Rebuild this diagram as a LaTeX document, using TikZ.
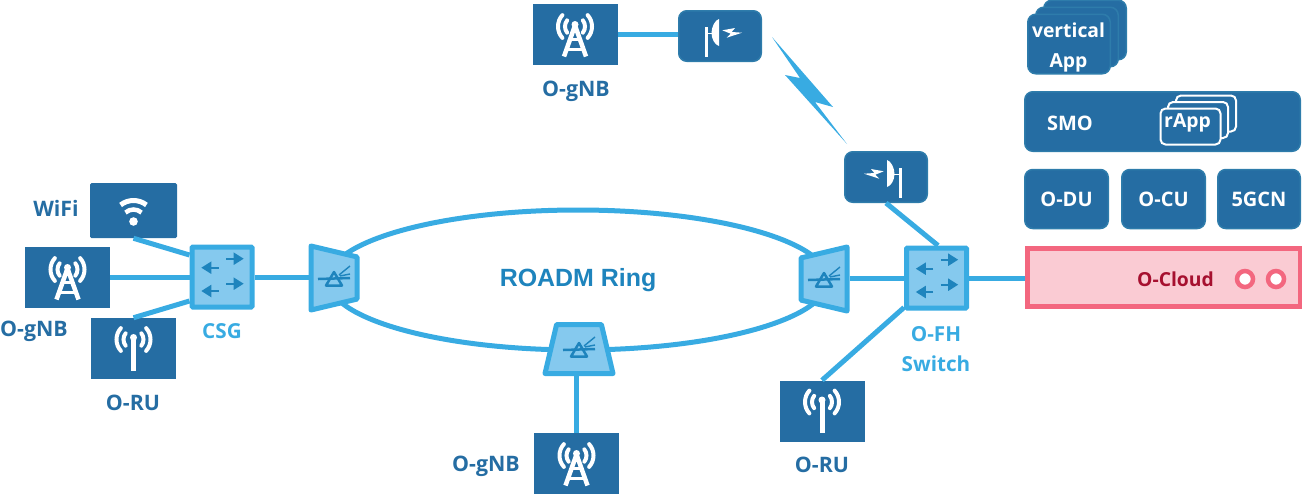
\documentclass[tikz,border=0pt]{standalone}
\usepackage{fontspec}
\setmainfont{Open Sans}
\newfontfamily\ringfont{Liberation Sans}
\usetikzlibrary{arrows.meta,calc,shapes.geometric}
\def\px{.75pt}
\definecolor{darkblue}{HTML}{256DA3}
\definecolor{edgeblue}{HTML}{2E7CAB}
\definecolor{lineblue}{HTML}{38ABE2}
\definecolor{fillblue}{HTML}{85C9EE}
\definecolor{arrowblue}{HTML}{1E84BD}
\definecolor{cloudpink}{HTML}{F3677F}
\definecolor{cloudfill}{HTML}{FACBD3}
\definecolor{cloudtext}{HTML}{A6102F}
\tikzset{
  site/.style={fill=darkblue,inner sep=0,minimum width=85*\px,minimum height=61*\px},
  appbox/.style={draw=edgeblue,line width=1.5*\px,fill=darkblue,rounded corners=8*\px,inner sep=0,text=white,font=\bfseries\fontsize{15}{22}\selectfont,align=center},
  rapp/.style={draw=white,line width=2*\px,fill=darkblue,rounded corners=5*\px,inner sep=0,minimum width=60*\px,minimum height=36*\px},
  switchbox/.style={draw=lineblue,line width=5*\px,fill=fillblue,rounded corners=1*\px,inner sep=0,minimum width=60*\px,minimum height=60*\px},
  roadm/.style={trapezium,trapezium stretches=true,trapezium angle=75.5,draw=lineblue,line width=5*\px,line join=round,fill=fillblue,inner sep=1pt},
  link/.style={draw=lineblue,line width=5*\px},
  lbl/.style={text=darkblue,inner sep=0,font=\bfseries\fontsize{16}{22}\selectfont,align=center},
  lblsw/.style={lbl,text=lineblue,font=\bfseries\fontsize{15.5}{22}\selectfont},
  towericon/.pic={
    \draw[white,line width=4.5*\px,line join=round] (-11,22) -- (0,-9) -- (11,22);
    \draw[white,line width=3*\px] (-6,5) -- (6,5) (-9,14.5) -- (9,14.5);
    \fill[white] (0,-10) circle (3.5);
    \foreach \r/\a in {17/42,10/38}{
      \draw[white,line width=4*\px,line cap=round,shift={(0,-8)}] (-\a:\r) arc[start angle=-\a,end angle=\a,radius=\r];
      \draw[white,line width=4*\px,line cap=round,shift={(0,-8)}] (180-\a:\r) arc[start angle=180-\a,end angle=180+\a,radius=\r];
    }
  },
  ruicon/.pic={
    \draw[white,line width=5*\px] (0,-11) -- (0,22);
    \fill[white] (0,-11) circle (3.5);
    \foreach \r/\a in {17/42,10/38}{
      \draw[white,line width=4*\px,line cap=round,shift={(0,-9)}] (-\a:\r) arc[start angle=-\a,end angle=\a,radius=\r];
      \draw[white,line width=4*\px,line cap=round,shift={(0,-9)}] (180-\a:\r) arc[start angle=180-\a,end angle=180+\a,radius=\r];
    }
  },
  wifiicon/.pic={
    \fill[white] (0,11) circle (4.3);
    \draw[white,line width=5*\px,shift={(0,11)}] (232:21) arc[start angle=232,end angle=308,radius=21];
    \draw[white,line width=4.5*\px,shift={(0,11)}] (228:12) arc[start angle=228,end angle=312,radius=12];
  },
  radioicon/.pic={
    \fill[white] (-15.5,-9) rectangle (-12.5,21);
    \fill[white] (-13,-3.5) rectangle (-8,-2.5);
    \fill[white] (-1,-17) .. controls (-5,-16) and (-8.5,-9) .. (-8.5,-3) .. controls (-8.5,3) and (-5,9) .. (-1,10) -- cycle;
    \fill[white] (2.3,-5.7) -- (15,-8) -- (11.7,-4) -- (22,-3.3) -- (6.7,1.7) -- (10.7,-2.3) -- cycle;
  },
  swarrows/.pic={
    \foreach \xa/\xb/\yy in {4.3/21.7/-18.3,4.3/21.7/6.7,-3.3/-20.7/-9.3,-3.3/-20.7/14}{
      \draw[arrowblue,line width=2*\px,-{Triangle[length=10*\px,width=12*\px]}] (\xa,\yy) -- (\xb,\yy);
    }
  },
  prismicon/.pic={
    \draw[arrowblue,line width=2.5*\px] (-16,1) -- (16,0);
    \draw[arrowblue,line width=2.5*\px,line join=round] (0,-6) -- (-8,7.5) -- (8,7.5) -- cycle;
    \draw[arrowblue,line width=1.4*\px] (5,-3) -- (16,-12) (6,-2) -- (16,-4);
  },
}
\begin{document}
\begin{tikzpicture}[x=.75pt,y=-.75pt]
  \useasboundingbox (0,0) rectangle (1302,494);
  % ring and its three add/drop sites
  \node[ellipse,draw=lineblue,line width=5*\px,inner sep=0,minimum width=500*\px,minimum height=140*\px] (ring) at (578,280) {};
  \node[text=arrowblue,font=\ringfont\bfseries\fontsize{18.7}{22}\selectfont] (ringlabel) at (578,280.5) {ROADM Ring};
  \node[roadm,rotate=-90,minimum width=64*\px,minimum height=46*\px] (roadmL) at (334,278) {};
  \node[roadm,rotate=90,minimum width=64*\px,minimum height=46*\px] (roadmR) at (824,279) {};
  \node[roadm,minimum width=68*\px,minimum height=49*\px] (roadmB) at (579,349) {};
  \pic at (roadmL) {prismicon};
  \pic at (roadmR) {prismicon};
  \pic at (roadmB) {prismicon};
  % switches
  \node[switchbox] (csg) at (222,277) {};
  \node[switchbox] (ofh) at (936.5,278) {};
  \pic at (csg) {swarrows};
  \pic at (ofh) {swarrows};
  \node[lblsw] (csglabel) at (222,331) {CSG};
  \node[lblsw] (ofhlabel) at (936,349) {O-FH\\Switch};
  % radio sites
  \node[site,rounded corners=1.5*\px,minimum width=87*\px,minimum height=55*\px] (wifi) at (133.5,210.5) {};
  \node[site] (gnbL) at (67.5,277.5) {};
  \node[site] (ruL) at (133.5,348.5) {};
  \node[site] (gnbT) at (575,34.5) {};
  \node[site] (gnbB) at (576.5,463.5) {};
  \node[site] (ruR) at (822,411) {};
  \pic at (wifi) {wifiicon};
  \pic at (gnbL) {towericon};
  \pic at (ruL) {ruicon};
  \pic at (gnbT) {towericon};
  \pic at (gnbB) {towericon};
  \pic at (ruR) {ruicon};
  \node[lbl] (wifilabel) at (56,208.5) {WiFi};
  \node[lbl] (gnbLlabel) at (34,331.5) {O-gNB};
  \node[lbl] (ruLlabel) at (133,403) {O-RU};
  \node[lbl] (gnbTlabel) at (576,91.5) {O-gNB};
  \node[lbl] (gnbBlabel) at (486,466.5) {O-gNB};
  \node[lbl] (ruRlabel) at (822,465) {O-RU};
  % microwave hop
  \node[appbox,minimum width=82.5*\px,minimum height=50.5*\px] (radioT) at (720,36) {};
  \node[appbox,minimum width=82.5*\px,minimum height=50.5*\px] (radioR) at (886,177) {};
  \pic at (radioT) {radioicon};
  \pic[xscale=-1] at (radioR) {radioicon};
  \fill[lineblue] (772,37) -- (833,107) -- (815,102) -- (847,144) -- (785,75) -- (800,78) -- cycle;
  % links
  \draw[link] (wifi.south) -- ([yshift=22*\px]csg.west);
  \draw[link] (gnbL.east) -- (gnbL.east -| csg.west);
  \draw[link] (ruL.north) -- ([yshift=-24*\px]csg.west);
  \draw[link] (csg.east) -- (csg.east -| roadmL.south);
  \draw[link] (gnbB.north) -- (gnbB.north |- roadmB.south);
  \draw[link] (gnbT.east) -- (gnbT.east -| radioT.west);
  \draw[link] (radioR.south) -- ([xshift=1.5*\px]ofh.north);
  \draw[link] (ofh.west -| roadmR.south) -- (ofh.west);
  \draw[link] (ruR.north) -- ([yshift=3*\px]ofh.south west);
  % cloud stack
  \node[appbox,minimum width=82.5*\px,minimum height=59.5*\px] (vapp3) at (1085,30) {};
  \node[appbox,minimum width=82.5*\px,minimum height=59.5*\px] (vapp2) at (1077,37) {};
  \node[appbox,minimum width=82.5*\px,minimum height=59.5*\px] (vapp1) at (1069,44) {};
  \node[lbl,text=white,font=\bfseries\fontsize{14.5}{22}\selectfont] (vapplabel) at (1068.5,47.5) {vertical\\App};
  \node[appbox,minimum width=275.5*\px,minimum height=59.5*\px] (smo) at (1162.5,121.5) {};
  \node[lbl,text=white,font=\bfseries\fontsize{15}{22}\selectfont] (smolabel) at (1070,123) {SMO};
  \node[rapp] (rapp3) at (1206,113.5) {};
  \node[rapp] (rapp2) at (1198,120) {};
  \node[rapp] (rapp1) at (1190.5,126.5) {};
  \node[lbl,text=white,font=\bfseries\fontsize{14.5}{22}\selectfont] (rapplabel) at (1187.5,123) {rApp};
  \node[appbox,minimum width=83.5*\px,minimum height=59*\px] (odu) at (1066.5,199) {O-DU};
  \node[appbox,minimum width=83.5*\px,minimum height=59*\px] (ocu) at (1163.5,199) {O-CU};
  \node[appbox,minimum width=82.5*\px,minimum height=59*\px] (fivegc) at (1259,199) {5GCN};
  \node[draw=cloudpink,line width=5*\px,fill=cloudfill,inner sep=0,minimum width=273*\px,minimum height=58*\px] (ocloud) at (1163.5,277.5) {};
  \node[text=cloudtext,inner sep=0,font=\bfseries\fontsize{14.5}{16}\selectfont] (ocloudlabel) at (1175.5,279.5) {O-Cloud};
  \node[circle,draw=cloudpink,line width=4.5*\px,fill=white,inner sep=0,minimum size=16*\px] (led1) at (1245,279) {};
  \node[circle,draw=cloudpink,line width=4.5*\px,fill=white,inner sep=0,minimum size=16*\px] (led2) at (1276,279) {};
  \draw[link] (ofh.east) -- (ofh.east -| ocloud.west);
\end{tikzpicture}
\end{document}
